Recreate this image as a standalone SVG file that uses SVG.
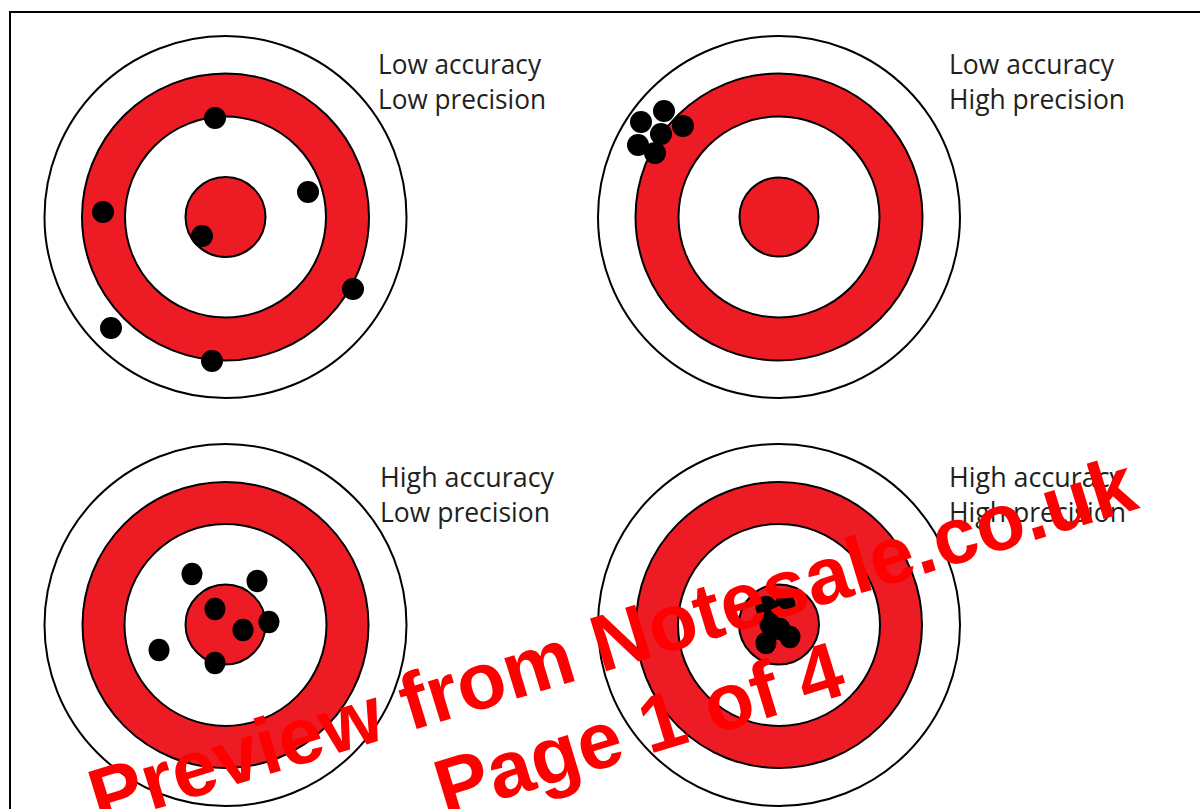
<svg xmlns="http://www.w3.org/2000/svg" width="1200" height="809" viewBox="0 0 1200 809">
  <style>
    .outer { fill: #ffffff; stroke: #000000; stroke-width: 2; }
    .red { fill: #ed1c24; stroke: #000000; stroke-width: 2; }
    .white { fill: #ffffff; stroke: #000000; stroke-width: 2; }
    .dot { fill: #000000; }
    .lbl { font-family: "Open Sans", "Noto Sans", sans-serif; font-size: 26.5px; fill: #231f20; }
    .wm { font-family: "Liberation Sans", Arial, sans-serif; font-weight: bold; font-size: 80px; fill: #ff0000; }
  </style>
  <rect x="0" y="0" width="1200" height="809" fill="#ffffff"/>
  <rect id="frame" x="10" y="12" width="1200" height="810" fill="none" stroke="#000000" stroke-width="2"/>

  <g id="target-low-acc-low-prec">
    <circle class="outer" cx="225.5" cy="217" r="181"/>
    <circle class="red" cx="225.5" cy="217" r="143.5"/>
    <circle class="white" cx="225.5" cy="217" r="100.5"/>
    <circle class="red" cx="225.5" cy="217" r="40"/>
    <circle class="dot" cx="215" cy="118" r="11"/>
    <circle class="dot" cx="308" cy="192" r="11"/>
    <circle class="dot" cx="103" cy="212" r="11"/>
    <circle class="dot" cx="202" cy="236" r="11"/>
    <circle class="dot" cx="353" cy="289" r="11"/>
    <circle class="dot" cx="111" cy="328" r="11"/>
    <circle class="dot" cx="212" cy="361" r="11"/>
    <text class="lbl" x="378" y="74" textLength="163" lengthAdjust="spacingAndGlyphs">Low accuracy</text>
    <text class="lbl" x="378" y="109" textLength="168" lengthAdjust="spacingAndGlyphs">Low precision</text>
  </g>

  <g id="target-low-acc-high-prec">
    <circle class="outer" cx="779" cy="217" r="181"/>
    <circle class="red" cx="779" cy="217" r="143.5"/>
    <circle class="white" cx="779" cy="217" r="100.5"/>
    <circle class="red" cx="779" cy="217" r="39.5"/>
    <circle class="dot" cx="664" cy="111" r="11"/>
    <circle class="dot" cx="641" cy="122" r="11"/>
    <circle class="dot" cx="683" cy="126" r="11"/>
    <circle class="dot" cx="661" cy="134" r="11"/>
    <circle class="dot" cx="638" cy="145" r="11"/>
    <circle class="dot" cx="655" cy="153" r="11"/>
    <text class="lbl" x="949" y="74" textLength="165" lengthAdjust="spacingAndGlyphs">Low accuracy</text>
    <text class="lbl" x="949" y="109" textLength="176" lengthAdjust="spacingAndGlyphs">High precision</text>
  </g>

  <g id="target-high-acc-low-prec">
    <circle class="outer" cx="225.5" cy="625" r="181"/>
    <circle class="red" cx="225.5" cy="625" r="143"/>
    <circle class="white" cx="225.5" cy="625" r="101"/>
    <circle class="red" cx="225.5" cy="624.5" r="40"/>
    <ellipse class="dot" cx="192" cy="574" rx="10.5" ry="11.3"/>
    <ellipse class="dot" cx="257" cy="581" rx="10.5" ry="11.3"/>
    <ellipse class="dot" cx="215" cy="609" rx="10.5" ry="11.3"/>
    <ellipse class="dot" cx="243" cy="630" rx="10.5" ry="11.3"/>
    <ellipse class="dot" cx="269" cy="622" rx="10.5" ry="11.3"/>
    <ellipse class="dot" cx="159" cy="650" rx="10.5" ry="11.3"/>
    <ellipse class="dot" cx="215" cy="663" rx="10.5" ry="11.3"/>
    <text class="lbl" x="380" y="487" textLength="174" lengthAdjust="spacingAndGlyphs">High accuracy</text>
    <text class="lbl" x="380" y="522" textLength="170" lengthAdjust="spacingAndGlyphs">Low precision</text>
  </g>

  <g id="target-high-acc-high-prec">
    <circle class="outer" cx="779" cy="625" r="181"/>
    <circle class="red" cx="779" cy="625" r="143"/>
    <circle class="white" cx="779" cy="625" r="101"/>
    <circle class="red" cx="779" cy="624.5" r="40"/>
    <ellipse class="dot" cx="766" cy="607" rx="10.5" ry="11.3"/>
    <ellipse class="dot" cx="785" cy="605" rx="10.5" ry="11.3"/>
    <ellipse class="dot" cx="770" cy="624" rx="10.5" ry="11.3"/>
    <ellipse class="dot" cx="780" cy="629" rx="10.5" ry="11.3"/>
    <ellipse class="dot" cx="766" cy="643" rx="10.5" ry="11.3"/>
    <ellipse class="dot" cx="790" cy="637" rx="10.5" ry="11.3"/>
    <text class="lbl" x="949" y="487" textLength="174" lengthAdjust="spacingAndGlyphs">High accuracy</text>
    <text class="lbl" x="949" y="522" textLength="177" lengthAdjust="spacingAndGlyphs">High precision</text>
  </g>

  <g id="watermark" transform="translate(620,667) rotate(-17)">
    <text class="wm" x="0" y="0" text-anchor="middle">Preview from Notesale.co.uk</text>
    <text class="wm" x="0" y="92" text-anchor="middle">Page 1 of 4</text>
  </g>
</svg>
